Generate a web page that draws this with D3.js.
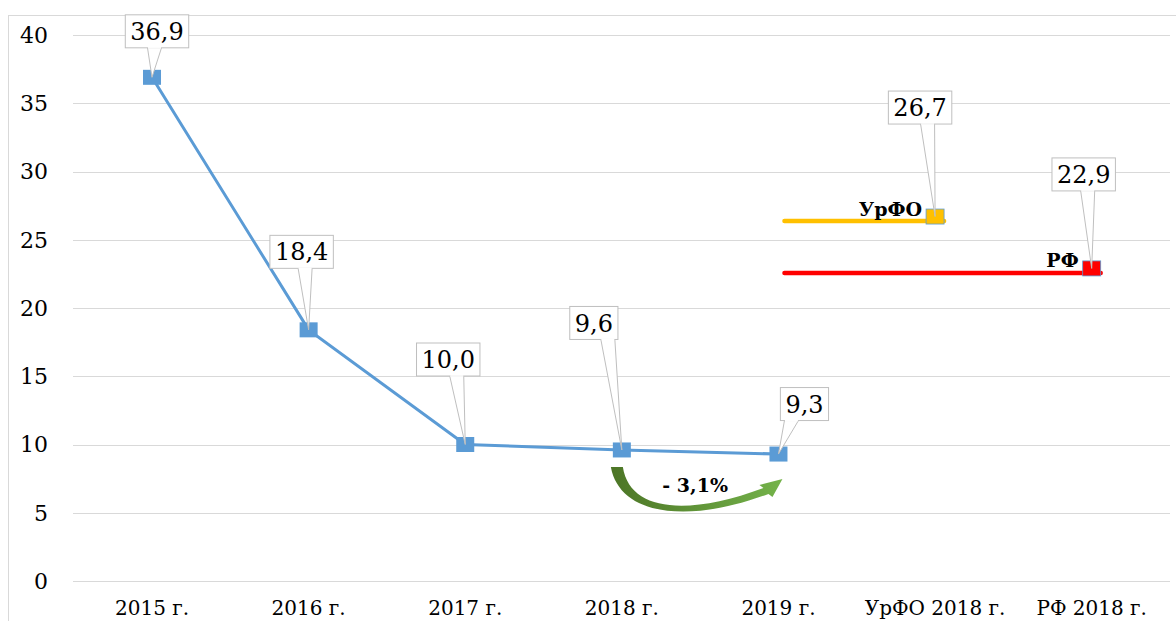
<!DOCTYPE html>
<meta charset="utf-8">
<style>
body { margin: 0; background: #fff; }
svg text { font-family: "DejaVu Serif", "Liberation Serif", serif; }
.grid line { stroke: #d9d9d9; stroke-width: 1; }
.ytick { font-size: 22px; fill: #000; }
.xtick { font-size: 20px; fill: #000; }
.dlabel { font-size: 24px; fill: #000; }
</style>
<svg id="chart" width="1176" height="621"></svg>
<script src="https://cdn.jsdelivr.net/npm/d3@7"></script>
<script>

// categories along the x axis
var categories = ["2015 г.", "2016 г.", "2017 г.", "2018 г.", "2019 г.", "УрФО 2018 г.", "РФ 2018 г."];
// main series (2015..2019)
var years = ["2015 г.", "2016 г.", "2017 г.", "2018 г.", "2019 г."];
var values = [36.9, 18.4, 10.0, 9.6, 9.3];
// comparison values
var refCats = ["УрФО 2018 г.", "РФ 2018 г."];
var refValues = [26.7, 22.9];
var refNames = ["УрФО", "РФ"];
var refColors = ["#ffc000", "#ff0000"];
var yTicks = [0, 5, 10, 15, 20, 25, 30, 35, 40];
var changeText = "- 3,1%";

// label box offsets (layout only)
var mainLabelDx = [5, -7, -17, -28, 26];
var mainLabelDy = [-46, -78, -85, -127, -50];
var refLabelDx = [-15, -8];
var refLabelDy = [-109, -94];

var svg = d3.select("#chart");

var x = d3.scaleBand().domain(categories).range([73.7, 1170]);
var y = d3.scaleLinear().domain([0, 40]).range([581, 35]);
var cx = function(c) { return x(c) + x.bandwidth() / 2; };

// outer border
svg.append("rect")
    .attr("x", 8.5).attr("y", 15.5)
    .attr("width", 1190).attr("height", 640)
    .attr("fill", "none").attr("stroke", "#d9d9d9");

// grid
svg.append("g").attr("class", "grid")
  .selectAll("line")
  .data(yTicks)
  .enter().append("line")
    .attr("x1", 73).attr("x2", 1170)
    .attr("y1", function(d) { return Math.round(y(d)) + 0.5; })
    .attr("y2", function(d) { return Math.round(y(d)) + 0.5; });

// y tick labels
svg.append("g").selectAll("text")
  .data(yTicks)
  .enter().append("text")
    .attr("class", "ytick")
    .attr("x", 48)
    .attr("y", function(d) { return y(d); })
    .attr("dy", "0.36em")
    .attr("text-anchor", "end")
    .text(function(d) { return d; });

// x labels
svg.append("g").selectAll("text")
  .data(categories)
  .enter().append("text")
    .attr("class", "xtick")
    .attr("x", function(d) { return cx(d); })
    .attr("y", 615)
    .attr("text-anchor", "middle")
    .text(function(d) { return d; });

// green arrow under 2018 -> 2019
var defs = svg.append("defs");
var grad = defs.append("linearGradient").attr("id", "arrowGrad")
    .attr("x1", "0%").attr("x2", "100%").attr("y1", "0%").attr("y2", "0%");
grad.append("stop").attr("offset", "0%").attr("stop-color", "#4c7526");
grad.append("stop").attr("offset", "100%").attr("stop-color", "#74b34a");

var x0 = cx(years[3]), x1 = cx(years[4]), yb = y(values[3]);
var ap = d3.path();
ap.moveTo(x0 - 11, yb + 17);
ap.bezierCurveTo(x0 - 2, yb + 66, x1 - 90, yb + 74, x1 - 10, yb + 44);
ap.lineTo(x1 - 6, yb + 47);
ap.lineTo(x1 + 4, yb + 29);
ap.lineTo(x1 - 19, yb + 35);
ap.lineTo(x1 - 15, yb + 38);
ap.bezierCurveTo(x1 - 90, yb + 66, x0 + 8, yb + 62, x0 + 1, yb + 17);
ap.closePath();
svg.append("path").attr("d", ap.toString()).attr("fill", "url(#arrowGrad)");

svg.append("text")
    .attr("x", (x0 + x1) / 2 - 5)
    .attr("y", yb + 42)
    .attr("text-anchor", "middle")
    .style("font-size", "19px")
    .style("font-weight", "bold")
    .text(changeText);

// reference lines (УрФО, РФ)
var mw = 18, mh = 15;
refValues.forEach(function(v, i) {
  var px = cx(refCats[i]), py = y(v);
  svg.append("line")
      .attr("x1", x1 + 6).attr("x2", px + mw / 2)
      .attr("y1", py + 4.5).attr("y2", py + 4.5)
      .attr("stroke", refColors[i]).attr("stroke-width", 4.5)
      .attr("stroke-linecap", "round");
  svg.append("rect")
      .attr("x", px - mw / 2).attr("y", py - mh / 2)
      .attr("width", mw).attr("height", mh)
      .attr("fill", refColors[i])
      .attr("stroke", "#5b9bd5").attr("stroke-width", 0.8);
  svg.append("text")
      .attr("x", px - mw / 2 - 4)
      .attr("y", py - 1)
      .attr("text-anchor", "end")
      .style("font-size", "19px")
      .style("font-weight", "bold")
      .text(refNames[i]);
});

// main line
var line = d3.line()
    .x(function(d, i) { return cx(years[i]); })
    .y(function(d) { return y(d); });

svg.append("path")
    .datum(values)
    .attr("d", line)
    .attr("fill", "none")
    .attr("stroke", "#5b9bd5")
    .attr("stroke-width", 3);

svg.append("g").selectAll("rect")
  .data(values)
  .enter().append("rect")
    .attr("x", function(d, i) { return cx(years[i]) - mw / 2; })
    .attr("y", function(d) { return y(d) - mh / 2; })
    .attr("width", mw).attr("height", mh)
    .attr("fill", "#5b9bd5");

// data label callouts
function fmt(v) { return v.toFixed(1).replace(".", ","); }

function callout(px, py, dx, dy, v) {
  var g = svg.append("g");
  var bx = px + dx, by = py + dy;
  var t = g.append("text")
      .attr("class", "dlabel")
      .attr("x", bx).attr("y", by)
      .attr("dy", "0.36em")
      .attr("text-anchor", "middle")
      .text(fmt(v));
  var bw = t.node().getBBox().width + 10, bh = 33;
  var left = bx - bw / 2, right = bx + bw / 2, bottom = by + bh / 2;
  var mid = Math.max(left + 8, Math.min(right - 8, (bx + px) / 2));
  g.insert("path", "text")
      .attr("d", "M" + (mid - 7) + "," + bottom + "L" + px + "," + py + "L" + (mid + 7) + "," + bottom)
      .attr("fill", "#fff").attr("stroke", "#bfbfbf").attr("stroke-width", 1);
  g.insert("rect", "text")
      .attr("x", left).attr("y", by - bh / 2)
      .attr("width", bw).attr("height", bh)
      .attr("fill", "#fff").attr("stroke", "#bfbfbf").attr("stroke-width", 1);
  g.insert("line", "text")
      .attr("x1", mid - 6.5).attr("x2", mid + 6.5)
      .attr("y1", bottom).attr("y2", bottom)
      .attr("stroke", "#fff").attr("stroke-width", 1.5);
}

values.forEach(function(v, i) {
  callout(cx(years[i]), y(v), mainLabelDx[i], mainLabelDy[i], v);
});
refValues.forEach(function(v, i) {
  callout(cx(refCats[i]), y(v), refLabelDx[i], refLabelDy[i], v);
});

</script>
